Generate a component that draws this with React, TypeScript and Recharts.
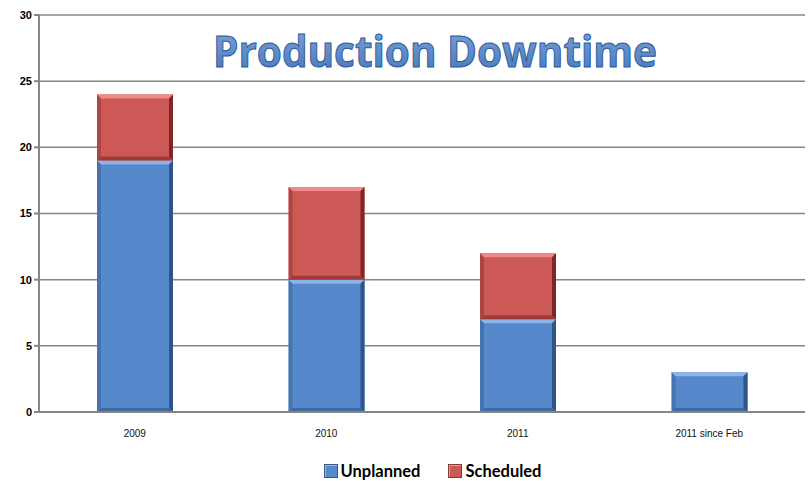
import React from 'react';
import { BarChart, Bar, XAxis, YAxis, CartesianGrid, Legend } from 'recharts';

const categories = ['2009', '2010', '2011', '2011 since Feb'];
const unplanned = [19, 10, 7, 3];
const scheduled = [5, 7, 5, 0];
const yTicks = [0, 5, 10, 15, 20, 25, 30];

const data = categories.map((name, i) => ({
  name,
  unplanned: unplanned[i],
  scheduled: scheduled[i],
}));

const BLUE = '#5589CB';
const RED = '#CD5957';

// bevelled box like the Excel look
const BevelBar = (props: any) => {
  const { x, y, width, height, fill, light, dark } = props;
  if (!height || height <= 0) return null;
  const b = Math.min(4, height / 2);
  return (
    <g>
      <rect x={x} y={y} width={width} height={height} fill={fill} />
      <polygon
        points={`${x},${y} ${x + width},${y} ${x + width - b},${y + b} ${x + b},${y + b}`}
        fill={light}
      />
      <polygon
        points={`${x},${y} ${x + b},${y + b} ${x + b},${y + height - b} ${x},${y + height}`}
        fill={dark}
        fillOpacity={0.4}
      />
      <polygon
        points={`${x + width},${y} ${x + width},${y + height} ${x + width - b},${y + height - b} ${x + width - b},${y + b}`}
        fill={dark}
      />
      <polygon
        points={`${x},${y + height} ${x + width},${y + height} ${x + width - b},${y + height - b} ${x + b},${y + height - b}`}
        fill={dark}
        fillOpacity={0.6}
      />
    </g>
  );
};

const LegendBox = ({ color, label }: { color: string; label: string }) => (
  <div style={{ display: 'flex', alignItems: 'center', gap: 3 }}>
    <div
      style={{
        width: 12,
        height: 12,
        background: color,
        border: '1px solid rgba(0,0,0,0.35)',
        boxShadow: 'inset 1px 1px 0 rgba(255,255,255,0.4)',
      }}
    />
    <span>{label}</span>
  </div>
);

const renderLegend = () => (
  <div
    style={{
      display: 'flex',
      justifyContent: 'center',
      gap: 28,
      fontFamily: 'Lato, "Open Sans", sans-serif',
      fontWeight: 700,
      fontSize: 16.5,
      color: '#000',
      paddingLeft: 60,
    }}
  >
    <LegendBox color={BLUE} label="Unplanned" />
    <LegendBox color={RED} label="Scheduled" />
  </div>
);

export default function App() {
  return (
    <div style={{ position: 'absolute', left: 0, top: 0, width: 808, height: 481, background: '#fff' }}>
      <BarChart
        width={808}
        height={481}
        data={data}
        margin={{ top: 15, right: 3, left: 0, bottom: 19 }}
        barSize={76}
      >
        <CartesianGrid stroke="#868686" strokeWidth={1.5} vertical={false} />
        <XAxis
          dataKey="name"
          height={30}
          stroke="#868686"
          strokeWidth={2}
          tickLine={false}
          tick={{ fill: '#111', fontSize: 10, fontFamily: '"Liberation Sans", Arial, sans-serif' }}
          dy={10}
        />
        <YAxis
          width={39}
          domain={[0, 30]}
          ticks={yTicks}
          stroke="#868686"
          strokeWidth={2}
          tickSize={5}
          tick={{ fill: '#000', fontSize: 11, fontWeight: 700, fontFamily: '"Liberation Sans", Arial, sans-serif' }}
        />
        <Legend verticalAlign="bottom" content={renderLegend} wrapperStyle={{ bottom: 0 }} />
        <Bar
          dataKey="unplanned"
          name="Unplanned"
          stackId="a"
          fill={BLUE}
          isAnimationActive={false}
          shape={(p: any) => <BevelBar {...p} light="#8DB3E8" dark="#2F5486" />}
        />
        <Bar
          dataKey="scheduled"
          name="Scheduled"
          stackId="a"
          fill={RED}
          isAnimationActive={false}
          shape={(p: any) => <BevelBar {...p} light="#EE8A88" dark="#7E2826" />}
        />
      </BarChart>
      <svg
        width={808}
        height={481}
        style={{ position: 'absolute', left: 0, top: 0, pointerEvents: 'none' }}
      >
        <defs>
          <linearGradient id="titleGrad" x1="0" y1="0" x2="0" y2="1">
            <stop offset="0%" stopColor="#7FA8DE" />
            <stop offset="100%" stopColor="#4373B8" />
          </linearGradient>
        </defs>
        <text
          x={435}
          y={67}
          textAnchor="middle"
          textLength={444}
          lengthAdjust="spacingAndGlyphs"
          fontFamily='"Open Sans", Lato, sans-serif'
          fontWeight={700}
          fontSize={43}
          fill="url(#titleGrad)"
          stroke="#2D5A96"
          strokeWidth={1}
        >
          Production Downtime
        </text>
      </svg>
    </div>
  );
}
